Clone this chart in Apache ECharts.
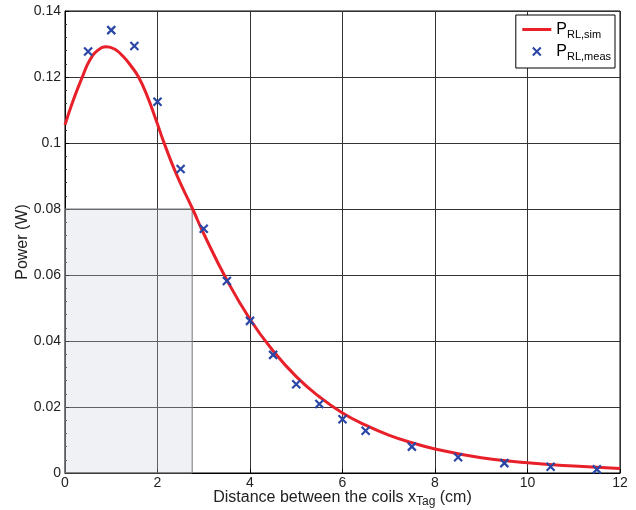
<!DOCTYPE html>
<html><head><meta charset="utf-8">
<script src="https://cdn.jsdelivr.net/npm/echarts@6/dist/echarts.min.js"></script>
<style>html,body{margin:0;padding:0;background:#fff}#c{width:636px;height:510px}</style>
</head><body><div id="c"></div>
<script>
// Simulated curve P_RL,sim
const simX = [0, 0.18, 0.36, 0.54, 0.72, 0.9, 1.08, 1.26, 1.44, 1.59, 1.77, 1.98, 2.13, 2.41, 2.76, 3, 3.5, 4, 4.5, 5, 5.5, 6, 6.5, 7, 7.5, 8, 9, 10, 11, 12];
const simY = [0.1055, 0.113, 0.1195, 0.1252, 0.1282, 0.1292, 0.1284, 0.1262, 0.1231, 0.120, 0.1145, 0.1065, 0.1005, 0.0905, 0.080, 0.0725, 0.0585, 0.0466, 0.037, 0.0292, 0.0231, 0.0182, 0.0145, 0.0115, 0.0092, 0.0073, 0.0046, 0.0031, 0.0021, 0.0014];
// Measured points P_RL,meas
const measX = [0.5, 1, 1.5, 2, 2.5, 3, 3.5, 4, 4.5, 5, 5.5, 6, 6.5, 7.5, 8.5, 9.5, 10.5, 11.5];
const measY = [0.1277, 0.1342, 0.1294, 0.1125, 0.0921, 0.0740, 0.0582, 0.0461, 0.0358, 0.0269, 0.0209, 0.0163, 0.0128, 0.0080, 0.0048, 0.0030, 0.0019, 0.0011];
// Shaded region
const shadeX = [0, 2.75];
const shadeY = [0, 0.08];
const seriesNames = ['P_RL,sim', 'P_RL,meas'];

const chart = echarts.init(document.getElementById('c'));
const font = 'Liberation Sans, Arial, Helvetica, sans-serif';
const xMark = 'path://M0,0 L10,10 M10,0 L0,10';
chart.setOption({
  animation: false,
  textStyle: {fontFamily: font},
  grid: {left: 65, right: 16, top: 11, bottom: 37, show: true, borderColor: '#000', borderWidth: 1, containLabel: false, outerBoundsMode: 'none'},
  legend: {
    orient: 'vertical', right: 21, top: 15,
    backgroundColor: '#fff', borderColor: '#000', borderWidth: 1,
    padding: [4, 4, 6, 5], itemGap: 1, itemWidth: 29, itemHeight: 8,
    textStyle: {fontFamily: font, fontSize: 16, color: '#000',
      rich: {a: {fontSize: 16, lineHeight: 18, fontFamily: font, color: '#000'}, b: {fontSize: 11, lineHeight: 13, fontFamily: font, color: '#000', padding: [10, 0, 0, 0]}}},
    formatter: function (n) { return n === seriesNames[0] ? '{a|P}{b|RL,sim}' : '{a|P}{b|RL,meas}'; },
    data: [
      {name: seriesNames[0], itemStyle: {opacity: 0}, lineStyle: {width: 3, color: '#e8202a'}},
      seriesNames[1]
    ]
  },
  xAxis: {
    type: 'value', min: 0, max: 12, interval: 2,
    name: '{a|Distance between the coils x}{b|Tag}{a| (cm)}',
    nameLocation: 'middle', nameGap: 16, nameMoveOverlap: false,
    nameTextStyle: {rich: {a: {fontSize: 16, lineHeight: 18, fontFamily: font, color: '#222'}, b: {fontSize: 12, lineHeight: 14, fontFamily: font, color: '#222', padding: [8, 0, 0, 0]}}},
    axisLine: {lineStyle: {color: '#000', width: 1}},
    axisTick: {inside: true, length: 4, lineStyle: {color: '#000'}},
    axisLabel: {fontSize: 14, color: '#222', margin: 3},
    splitLine: {show: true, lineStyle: {color: '#333', width: 1}}
  },
  yAxis: {
    type: 'value', min: 0, max: 0.14, interval: 0.02,
    name: 'Power (W)', nameLocation: 'middle', nameGap: 34, nameMoveOverlap: false,
    nameTextStyle: {fontSize: 16, color: '#222', fontFamily: font},
    axisLine: {show: true, lineStyle: {color: '#000', width: 1}},
    axisTick: {inside: true, length: 4, lineStyle: {color: '#000'}},
    minorTick: {show: true, splitNumber: 5, length: 2, lineStyle: {color: '#333'}},
    axisLabel: {fontSize: 14, color: '#222', margin: 4},
    splitLine: {show: true, lineStyle: {color: '#333', width: 1}}
  },
  series: [
    {
      name: seriesNames[0], type: 'line', smooth: 0.5, showSymbol: false, symbol: 'none',
      data: simX.map((x, i) => [x, simY[i]]),
      lineStyle: {color: '#e8202a', width: 3}, itemStyle: {color: '#e8202a'}, z: 3,
      markArea: {
        silent: true,
        itemStyle: {color: 'rgba(205,210,222,0.3)', borderColor: '#777', borderWidth: 1},
        data: [[{coord: [shadeX[0], shadeY[0]]}, {coord: [shadeX[1], shadeY[1]]}]]
      }
    },
    {
      name: seriesNames[1], type: 'scatter', symbol: xMark, symbolSize: 8,
      data: measX.map((x, i) => [x, measY[i]]),
      itemStyle: {color: 'rgba(0,0,0,0)', borderColor: '#2a46a6', borderWidth: 2.2, opacity: 1}, z: 4
    }
  ]
});
</script></body></html>
